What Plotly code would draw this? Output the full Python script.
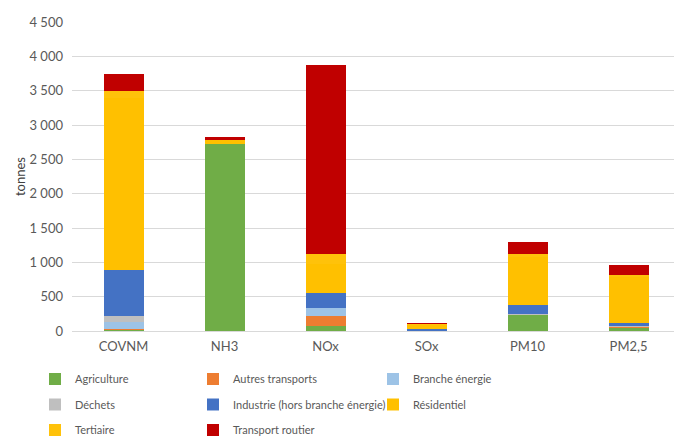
import plotly.graph_objects as go

categories = ["COVNM", "NH3", "NOx", "SOx", "PM10", "PM2,5"]

agriculture = [15, 2720, 77, 2, 233, 55]
autres_transports = [20, 0, 137, 3, 5, 4]
branche_energie = [100, 0, 116, 8, 8, 5]
dechets = [80, 0, 0, 0, 6, 4]
industrie = [680, 0, 228, 16, 131, 44]
residentiel = [2500, 70, 420, 70, 700, 670]
tertiaire = [105, 5, 148, 12, 34, 38]
transport_routier = [250, 25, 2743, 1, 179, 137]

y_ticks = [0, 500, 1000, 1500, 2000, 2500, 3000, 3500, 4000, 4500]

series = [
    ("Agriculture", agriculture, "#70AD47"),
    ("Autres transports", autres_transports, "#ED7D31"),
    ("Branche énergie", branche_energie, "#9DC3E6"),
    ("Déchets", dechets, "#BFBFBF"),
    ("Industrie (hors branche énergie)", industrie, "#4472C4"),
    ("Résidentiel", residentiel, "#FFC000"),
    ("Tertiaire", tertiaire, "#FFC20A"),
    ("Transport routier", transport_routier, "#C00000"),
]

FONT = "Lato, Liberation Sans, sans-serif"
GREY = "#595959"

# legend grid: 3 columns x 3 rows (page pixels of text start / row centre)
col_text_x = [76, 234, 414]
row_y = [379, 404.5, 430]
TEXT_OFFSET = 41

fig = go.Figure()
legends = {}
for i, (name, vals, color) in enumerate(series):
    key = "legend" if i == 0 else f"legend{i + 1}"
    fig.add_trace(go.Bar(
        x=categories, y=vals, name=name,
        marker=dict(color=color, line=dict(width=0)),
        legend=key,
    ))
    r, c = divmod(i, 3)
    legends[key] = dict(
        orientation="h", xref="container", yref="container",
        x=(col_text_x[c] - TEXT_OFFSET) / 674, y=1 - row_y[r] / 436,
        xanchor="left", yanchor="middle",
        font=dict(family=FONT, size=11, color=GREY),
        bgcolor="rgba(0,0,0,0)",
    )

fig.update_layout(
    width=674, height=436,
    barmode="stack", bargap=0.604,
    separators=", ",
    paper_bgcolor="white", plot_bgcolor="white",
    margin=dict(l=72, r=0, t=22, b=105, autoexpand=False),
    font=dict(family=FONT, size=13, color=GREY),
    showlegend=True,
    xaxis=dict(
        range=[-0.51, 5.45], showgrid=False, showline=False, zeroline=False,
        tickfont=dict(family=FONT, size=13, color=GREY), ticks="",
        ticklabelstandoff=6,
    ),
    yaxis=dict(
        range=[0, 4500], tickvals=y_ticks, tickformat=",d",
        showgrid=True, gridcolor="#D9D9D9", gridwidth=1,
        zeroline=True, zerolinecolor="#D9D9D9", zerolinewidth=1,
        showline=False, ticks="", ticklabelstandoff=8,
        tickfont=dict(family=FONT, size=13, color=GREY),
        title=dict(text="tonnes", font=dict(family=FONT, size=13, color="#404040"), standoff=0),
    ),
    **legends,
)

fig.write_html("out.html", post_script="document.body.style.margin='0';",
               config={"displayModeBar": False})
